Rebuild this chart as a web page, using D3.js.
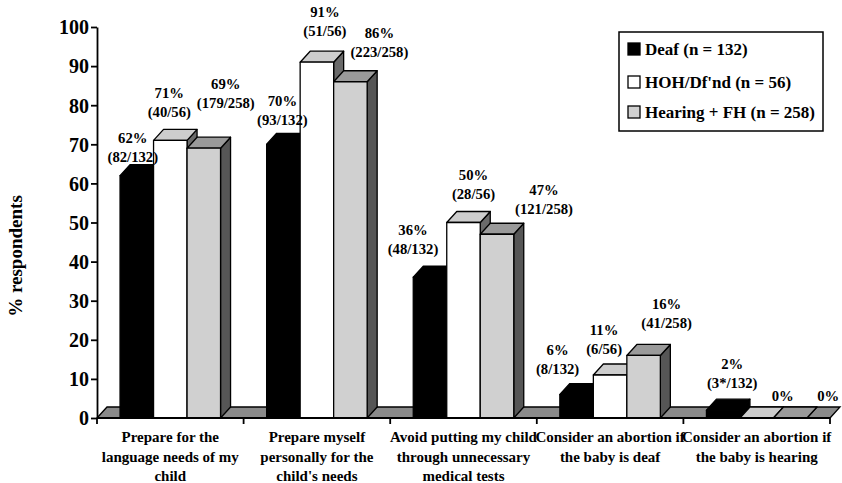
<!DOCTYPE html>
<html>
<head>
<meta charset="utf-8">
<script src="https://cdn.jsdelivr.net/npm/d3@7"></script>
<style>
  html, body { margin: 0; padding: 0; background: #fff; }
  svg { display: block; }
  text { font-family: "Liberation Serif", "Times New Roman", serif; font-weight: bold; fill: #000; }
</style>
</head>
<body>
<svg id="chart" width="842" height="483"></svg>
<script>
// Survey responses by hearing status
const categories = [
  ["Prepare for the", "language needs of my", "child"],
  ["Prepare myself", "personally for the", "child's needs"],
  ["Avoid putting my child", "through unnecessary", "medical tests"],
  ["Consider an abortion if", "the baby is deaf"],
  ["Consider an abortion if", "the baby is hearing"]
];
const seriesNames = ["Deaf (n = 132)", "HOH/Df'nd (n = 56)", "Hearing + FH (n = 258)"];
const deaf = [62, 70, 36, 6, 2];
const hoh = [71, 91, 50, 11, 0];
const hearing = [69, 86, 47, 16, 0];
const deafCounts = ["(82/132)", "(93/132)", "(48/132)", "(8/132)", "(3*/132)"];
const hohCounts = ["(40/56)", "(51/56)", "(28/56)", "(6/56)", null];
const hearingCounts = ["(179/258)", "(223/258)", "(121/258)", "(41/258)", null];
const yTicks = [0, 10, 20, 30, 40, 50, 60, 70, 80, 90, 100];

// Label placement: [horizontal shift from bar centre, lift of last line above bar top]
const labelNudge = [
  [[-4, 14], [-1, 23], [22, 40]],
  [[-1, 19], [8, 26], [29, 25]],
  [[-17, 23], [10, 24], [47, 20]],
  [[-19, 21], [-6, 21], [23, 27]],
  [[9, 22], [26, 17], [38, 17]]
];

const seriesValues = [deaf, hoh, hearing];
const seriesCounts = [deafCounts, hohCounts, hearingCounts];

// Face colours per series: front, top, side
const faces = [
  { front: "#000", top: "#000", side: "#000" },
  { front: "#fff", top: "#cdcdcd", side: "#6a6a6a" },
  { front: "#d0d0d0", top: "#9a9a9a", side: "#565656" }
];
const swatchFill = ["#000", "#fff", "#d0d0d0"];

const svg = d3.select("#chart");
const plotLeft = 97, plotRight = 830, plotTop = 27, plotBottom = 418;
const DX = 10, DY = 11; // 3-D depth offset

const keys = categories.map((c, i) => "c" + i);
const x = d3.scaleBand().domain(keys).range([plotLeft, plotRight]).paddingInner(0).paddingOuter(0);
const xs = d3.scaleBand().domain(d3.range(3)).range([0, x.bandwidth()]).paddingInner(0).paddingOuter(0.688);
const y = d3.scaleLinear().domain([0, 100]).range([plotBottom, plotTop]);

const line = d3.line();

// Floor
svg.append("path")
  .attr("d", line([[plotLeft, plotBottom], [plotLeft + DX, plotBottom - DY], [plotRight + DX, plotBottom - DY], [plotRight, plotBottom]]) + "Z")
  .attr("fill", "#8a8a8a").attr("stroke", "#000").attr("stroke-width", 1.3);

// Bars, left to right so each bar hides its neighbour's side face
const bars = svg.append("g");
keys.forEach((k, ci) => {
  seriesValues.forEach((vals, si) => {
    const x0 = x(k) + xs(si), x1 = x0 + xs.bandwidth();
    const yt = y(vals[ci]), yb = y(0);
    const f = faces[si];
    const g = bars.append("g").attr("stroke", "#000").attr("stroke-width", 1.3).attr("stroke-linejoin", "round");
    g.append("path").attr("fill", f.side)
      .attr("d", line([[x1, yt], [x1 + DX, yt - DY], [x1 + DX, yb - DY], [x1, yb]]) + "Z");
    g.append("path").attr("fill", f.top)
      .attr("d", line([[x0, yt], [x0 + DX, yt - DY], [x1 + DX, yt - DY], [x1, yt]]) + "Z");
    if (yb - yt > 0.5) {
      g.append("rect").attr("fill", f.front)
        .attr("x", x0).attr("y", yt).attr("width", x1 - x0).attr("height", yb - yt);
    }
  });
});

// Value labels
const labels = svg.append("g").attr("font-size", 14.7).attr("text-anchor", "middle");
keys.forEach((k, ci) => {
  seriesValues.forEach((vals, si) => {
    const cx = x(k) + xs(si) + xs.bandwidth() / 2 + labelNudge[ci][si][0];
    const base = y(vals[ci]) - labelNudge[ci][si][1];
    const count = seriesCounts[si][ci];
    if (count) {
      labels.append("text").attr("x", cx).attr("y", base - 19).text(vals[ci] + "%");
      labels.append("text").attr("x", cx).attr("y", base).text(count);
    } else {
      labels.append("text").attr("x", cx).attr("y", base).text(vals[ci] + "%");
    }
  });
});

// Y axis
const yAxis = d3.axisLeft(y).tickValues(yTicks).tickSize(6).tickSizeOuter(0).tickPadding(2);
const ya = svg.append("g").attr("transform", `translate(${plotLeft},0)`).call(yAxis);
ya.select(".domain").attr("stroke", "#000").attr("stroke-width", 1.8);
ya.selectAll(".tick line").attr("stroke", "#000").attr("stroke-width", 1.8);
ya.selectAll(".tick text")
  .attr("font-family", "'Liberation Serif', 'Times New Roman', serif")
  .attr("font-weight", "bold").attr("font-size", 20).attr("fill", "#000").attr("dy", "0.34em");

// X axis: baseline with ticks at category boundaries
const boundaries = keys.map(k => x(k)).concat([plotRight]);
const xa = svg.append("g");
xa.append("line").attr("x1", plotLeft).attr("x2", plotRight).attr("y1", plotBottom).attr("y2", plotBottom)
  .attr("stroke", "#000").attr("stroke-width", 1.8);
xa.selectAll("line.tk").data(boundaries).join("line").attr("class", "tk")
  .attr("x1", d => d).attr("x2", d => d).attr("y1", plotBottom).attr("y2", plotBottom + 6)
  .attr("stroke", "#000").attr("stroke-width", 1.8);

// Category labels
const cat = svg.append("g").attr("font-size", 15).attr("text-anchor", "middle");
categories.forEach((lines, ci) => {
  const cx = x(keys[ci]) + x.bandwidth() / 2;
  lines.forEach((t, li) => {
    cat.append("text").attr("x", cx).attr("y", 442 + li * 19.5).text(t);
  });
});

// Y axis title
svg.append("text").attr("transform", "translate(22,256) rotate(-90)")
  .attr("text-anchor", "middle").attr("font-size", 19).text("% respondents");

// Legend
const lg = svg.append("g");
lg.append("rect").attr("x", 619).attr("y", 32).attr("width", 204).attr("height", 99)
  .attr("fill", "#fff").attr("stroke", "#000").attr("stroke-width", 1.5);
const legendBase = [55, 88, 118];
seriesNames.forEach((name, i) => {
  lg.append("rect").attr("x", 628).attr("y", legendBase[i] - 12).attr("width", 12).attr("height", 12)
    .attr("fill", swatchFill[i]).attr("stroke", "#000").attr("stroke-width", 1.3);
  lg.append("text").attr("x", 645).attr("y", legendBase[i]).attr("font-size", 17).text(name);
});
</script>
</body>
</html>
